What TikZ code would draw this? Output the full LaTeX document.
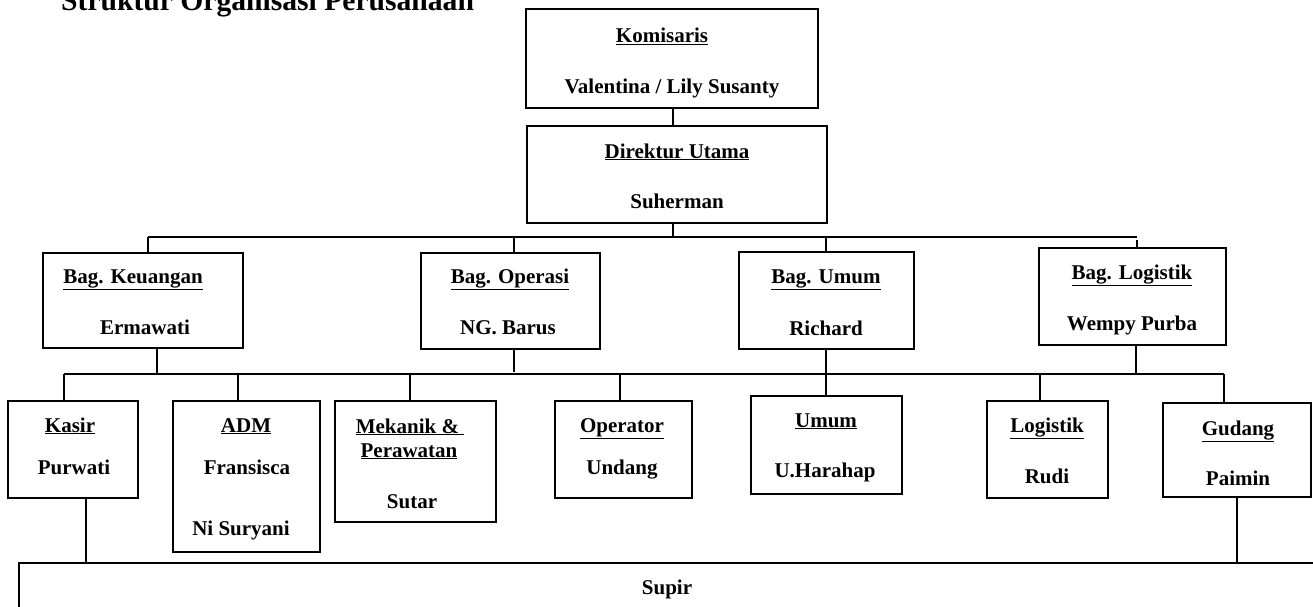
\documentclass[tikz,border=0pt]{standalone}
\usepackage{fontspec}
\setmainfont{Liberation Serif}
\begin{document}
\begin{tikzpicture}[x=1pt,y=-1pt,
  bx/.style={draw,line width=2pt,inner sep=0pt,rectangle},
  ln/.style={line width=1.3pt},
  tx/.style={anchor=base,inner sep=0pt,font=\bfseries\fontsize{21}{25}\selectfont},
  ttl/.style={anchor=base west,inner sep=0pt,font=\bfseries\fontsize{29.6}{34}\selectfont}]
\useasboundingbox (0,0) rectangle (1313,607);
% title (partly cut by the page top, as in the reference)
\node[ttl] (title) at (61,11) {Struktur Organisasi Perusahaan};
% boxes
\node[bx,minimum width=292pt,minimum height=99pt] (kom) at (672,58.5) {};
\node[bx,minimum width=300pt,minimum height=97pt] (dir) at (677,174.5) {};
\node[bx,minimum width=200pt,minimum height=95pt] (keu) at (143,300.5) {};
\node[bx,minimum width=179pt,minimum height=96pt] (ops) at (510.5,301) {};
\node[bx,minimum width=175pt,minimum height=97pt] (umu) at (826.5,300.5) {};
\node[bx,minimum width=187pt,minimum height=97pt] (log) at (1132.5,296.5) {};
\node[bx,minimum width=130pt,minimum height=97pt] (kas) at (73,449.5) {};
\node[bx,minimum width=147pt,minimum height=151pt] (adm) at (246.5,476.5) {};
\node[bx,minimum width=161pt,minimum height=121pt] (mek) at (415.5,461.5) {};
\node[bx,minimum width=137pt,minimum height=97pt] (opr) at (623.5,449.5) {};
\node[bx,minimum width=151pt,minimum height=98pt] (umm) at (826.5,445) {};
\node[bx,minimum width=121pt,minimum height=97pt] (lgs) at (1047.5,449.5) {};
\node[bx,minimum width=148pt,minimum height=94pt] (gud) at (1237,450) {};
\node[bx,minimum width=1311pt,minimum height=77pt] (sup) at (674.5,601.5) {};
% texts
\node[tx] (t1) at (662,43) {\underline{Komisaris}};
\node[tx] (t2) at (672,94) {Valentina / Lily Susanty};
\node[tx] (t3) at (677,158) {\underline{Direktur Utama}};
\node[tx] (t4) at (677,208) {Suherman};
\node[tx] (t5) at (133,283) {\underline{Bag. Keuangan}};
\node[tx] (t6) at (145,334) {Ermawati};
\node[tx] (t7) at (510,283) {\underline{Bag. Operasi}};
\node[tx] (t8) at (508,334) {NG. Barus};
\node[tx] (t9) at (826,283) {\underline{Bag. Umum}};
\node[tx] (t10) at (826,335) {Richard};
\node[tx] (t11) at (1132,279) {\underline{Bag. Logistik}};
\node[tx] (t12) at (1132,330) {Wempy Purba};
\node[tx] (t13) at (70,432) {\underline{Kasir}};
\node[tx] (t14) at (74,474) {Purwati};
\node[tx] (t15) at (246,432) {\underline{ADM}};
\node[tx] (t16) at (247,474) {Fransisca};
\node[tx] (t17) at (241,535) {Ni Suryani};
\node[tx] (t18) at (410,433) {\underline{Mekanik \& }};
\node[tx] (t19) at (409,457) {\underline{Perawatan}};
\node[tx] (t20) at (412,508) {Sutar};
\node[tx] (t21) at (622,432) {\underline{Operator}};
\node[tx] (t22) at (622,474) {Undang};
\node[tx] (t23) at (826,427) {\underline{Umum}};
\node[tx] (t24) at (825,477) {U.Harahap};
\node[tx] (t25) at (1047,432) {\underline{Logistik}};
\node[tx] (t26) at (1047,483) {Rudi};
\node[tx] (t27) at (1238,435) {\underline{Gudang}};
\node[tx] (t28) at (1238,485) {Paimin};
\node[tx] (t29) at (667,594) {Supir};
% bus junctions
\coordinate (a0) at (673,237);
\coordinate (a1) at (148,237);
\coordinate (a2) at (514,237);
\coordinate (a3) at (826,237);
\coordinate (a4) at (1137,237);
\coordinate (b0) at (64,374);
\coordinate (b1) at (157,374);
\coordinate (b2) at (238,374);
\coordinate (b3) at (410,374);
\coordinate (b4) at (514,374);
\coordinate (b5) at (620,374);
\coordinate (b6) at (826,374);
\coordinate (b7) at (1040,374);
\coordinate (b8) at (1136,374);
\coordinate (b9) at (1224,374);
% connectors
\draw[ln] (kom.south -| 673,0) -- (dir.north -| 673,0);
\draw[ln] (dir.south -| a0) -- (a0);
\draw[ln] (a1) -- (a4);
\draw[ln] (a1) -- (a1 |- keu.north);
\draw[ln] (a2) -- (a2 |- ops.north);
\draw[ln] (a3) -- (a3 |- umu.north);
\draw[ln] ([yshift=-3pt]a4) -- (a4 |- log.north);
\draw[ln] (b0) -- (b9);
\draw[ln] (keu.south -| b1) -- (b1);
\draw[ln] (ops.south -| b4) -- ([yshift=2pt]b4);
\draw[ln] (umu.south -| b6) -- (b6);
\draw[ln] (log.south -| b8) -- (b8);
\draw[ln] (b0) -- (b0 |- kas.north);
\draw[ln] (b2) -- (b2 |- adm.north);
\draw[ln] (b3) -- (b3 |- mek.north);
\draw[ln] (b5) -- (b5 |- opr.north);
\draw[ln] (b6) -- (b6 |- umm.north);
\draw[ln] (b7) -- (b7 |- lgs.north);
\draw[ln] (b9) -- (b9 |- gud.north);
\coordinate (c1) at (86,0);
\coordinate (c2) at (1237,0);
\draw[ln] (kas.south -| c1) -- (sup.north -| c1);
\draw[ln] (gud.south -| c2) -- (sup.north -| c2);
\end{tikzpicture}
\end{document}
